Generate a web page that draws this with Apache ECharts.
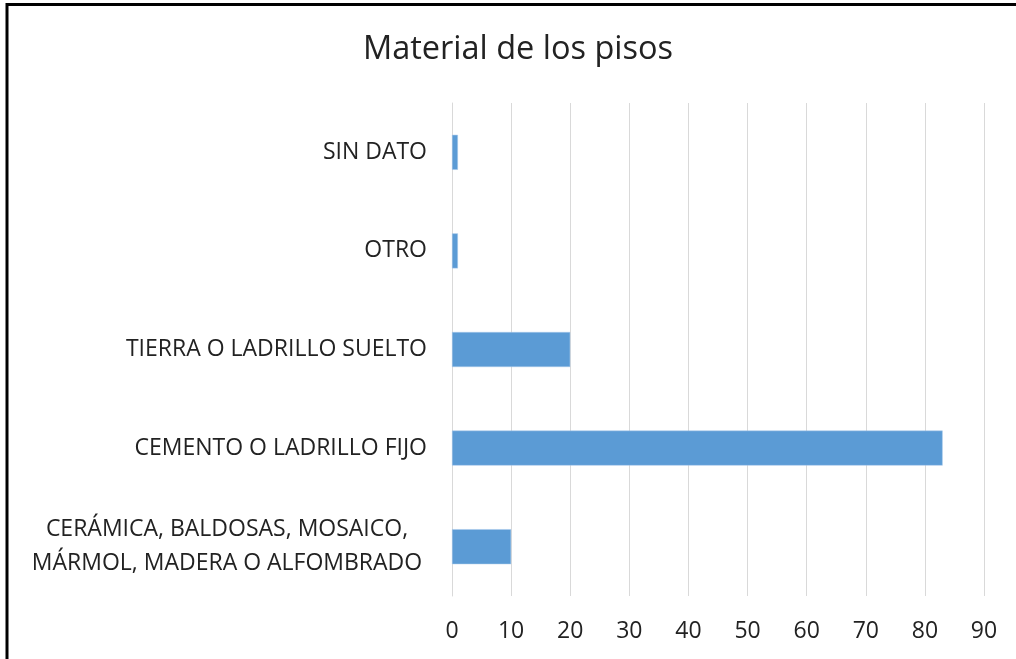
<!DOCTYPE html>
<html>
<head>
<meta charset="utf-8">
<script src="https://cdn.jsdelivr.net/npm/echarts@6/dist/echarts.min.js"></script>
<style>
  html, body { margin: 0; padding: 0; background: #fff; }
  #chart { width: 1016px; height: 659px; }
</style>
</head>
<body>
<div id="chart"></div>
<script>
// datos
var categorias = [
  'CERÁMICA, BALDOSAS, MOSAICO,\nMÁRMOL, MADERA O ALFOMBRADO',
  'CEMENTO O LADRILLO FIJO',
  'TIERRA O LADRILLO SUELTO',
  'OTRO',
  'SIN DATO'
];
var valores = [10, 83, 20, 1, 1];
var ticksX = [0, 10, 20, 30, 40, 50, 60, 70, 80, 90];

var fuente = '"Open Sans", sans-serif';
var colorTexto = '#222';

var chart = echarts.init(document.getElementById('chart'), null, { renderer: 'canvas' });

var option = {
  backgroundColor: '#fff',
  animation: false,
  title: {
    text: 'Material de los pisos',
    left: 513,
    top: 28,
    textAlign: 'center',
    textStyle: {
      fontFamily: fuente,
      fontSize: 32.5,
      fontWeight: 'normal',
      color: colorTexto
    }
  },
  // marco del gráfico
  graphic: [{
    type: 'rect',
    shape: { x: 7, y: 4.5, width: 1100, height: 700 },
    style: { fill: null, stroke: '#000', lineWidth: 3 },
    silent: true
  }],
  grid: {
    left: 452,
    right: 32,
    top: 103,
    bottom: 63,
    containLabel: false
  },
  xAxis: {
    type: 'value',
    min: ticksX[0],
    max: ticksX[ticksX.length - 1],
    interval: 10,
    axisLine: { show: false },
    axisTick: { show: false },
    splitLine: { show: true, lineStyle: { color: '#d9d9d9', width: 1 } },
    axisLabel: {
      margin: 24,
      fontFamily: fuente,
      fontSize: 23,
      color: colorTexto
    }
  },
  yAxis: {
    type: 'category',
    data: categorias,
    axisLine: { show: true, lineStyle: { color: '#d9d9d9' } },
    axisTick: { show: false },
    axisLabel: {
      margin: 25,
      fontFamily: fuente,
      fontSize: 23,
      color: colorTexto,
      formatter: function (v) {
        if (v.indexOf('\n') >= 0) return '{c|' + v + '}';
        return v;
      },
      rich: {
        c: {
          fontFamily: fuente,
          fontSize: 23,
          color: colorTexto,
          lineHeight: 34,
          width: 400,
          align: 'center'
        }
      }
    }
  },
  series: [{
    type: 'bar',
    data: valores,
    barWidth: 35,
    itemStyle: { color: '#5b9bd5', borderColor: '#a9c8ea', borderWidth: 0.5 }
  }]
};

chart.setOption(option);
</script>
</body>
</html>
